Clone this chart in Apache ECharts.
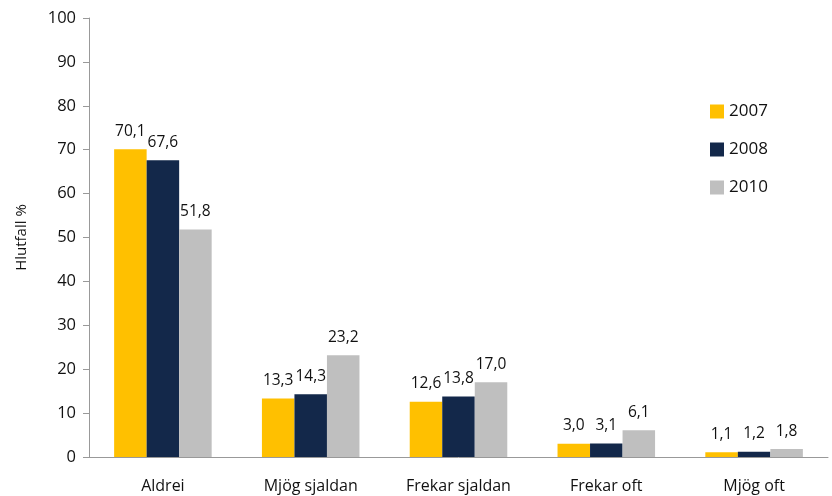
<!DOCTYPE html>
<html>
<head>
<meta charset="utf-8">
<script src="https://cdn.jsdelivr.net/npm/echarts@6/dist/echarts.min.js"></script>
<style>
  html, body { margin: 0; padding: 0; background: #fff; }
</style>
</head>
<body>
<div id="main" style="width: 832px;height:496px;"></div>
<script>
var categories = ['Aldrei', 'Mjög sjaldan', 'Frekar sjaldan', 'Frekar oft', 'Mjög oft'];
var years = ['2007', '2008', '2010'];
var values2007 = [70.1, 13.3, 12.6, 3.0, 1.1];
var values2008 = [67.6, 14.3, 13.8, 3.1, 1.2];
var values2010 = [51.8, 23.2, 17.0, 6.1, 1.8];
var colors = ['#FFC000', '#13284A', '#BFBFBF'];

var font = 'Open Sans';

function makeSeries(name, data, color) {
  return {
    name: name,
    type: 'bar',
    data: data,
    barGap: '0%',
    barCategoryGap: '34%',
    itemStyle: {color: color},
    label: {
      show: true,
      position: 'top',
      distance: 10,
      color: '#111',
      fontFamily: font,
      fontSize: 15.5,
      formatter: function (p) {
        return p.value.toFixed(1).replace('.', ',');
      }
    }
  };
}

var myChart = echarts.init(document.getElementById('main'));
var option = {
  animation: false,
  textStyle: {fontFamily: font},
  legend: {
    orient: 'vertical',
    left: 705,
    top: 98,
    itemWidth: 14,
    itemHeight: 14,
    itemGap: 21,
    icon: 'rect',
    textStyle: {fontSize: 17, color: '#111', fontFamily: font},
    data: years
  },
  grid: {
    left: 89,
    right: 4,
    top: 18,
    bottom: 39
  },
  xAxis: {
    type: 'category',
    data: categories,
    axisLine: {lineStyle: {color: '#999'}},
    axisTick: {show: false},
    axisLabel: {color: '#111', fontSize: 16, margin: 21, fontFamily: font}
  },
  yAxis: {
    type: 'value',
    min: 0,
    max: 100,
    interval: 10,
    name: 'Hlutfall %',
    nameLocation: 'middle',
    nameGap: 60,
    nameTextStyle: {color: '#111', fontSize: 15, fontFamily: font},
    axisLine: {show: true, lineStyle: {color: '#999'}},
    axisTick: {show: true, length: 6, lineStyle: {color: '#999'}},
    axisLabel: {color: '#111', fontSize: 16.5, margin: 13, fontFamily: font},
    splitLine: {show: false}
  },
  series: [
    makeSeries(years[0], values2007, colors[0]),
    makeSeries(years[1], values2008, colors[1]),
    makeSeries(years[2], values2010, colors[2])
  ]
};
myChart.setOption(option);
</script>
</body>
</html>
